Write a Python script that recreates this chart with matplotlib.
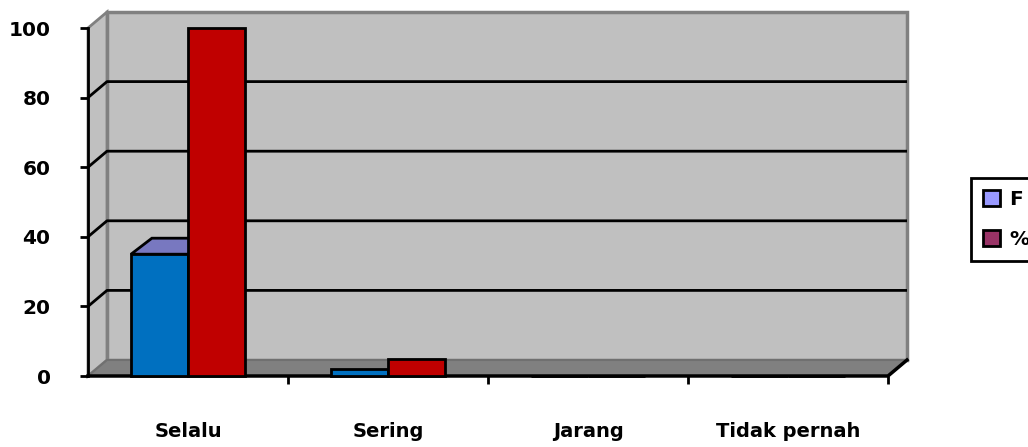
import matplotlib
matplotlib.use('Agg')
import matplotlib.pyplot as plt
from matplotlib.patches import Polygon, Rectangle, Patch

categories = ['Selalu', 'Sering', 'Jarang', 'Tidak pernah']
f_vals = [35, 2, 0, 0]
pct_vals = [100, 5, 0, 0]
series_names = ['F', '%']
y_ticks = [0, 20, 40, 60, 80, 100]

plt.rcParams['font.family'] = ['DejaVu Sans']
plt.rcParams['font.weight'] = 'bold'

W, H = 1028, 447
fig = plt.figure(figsize=(W / 100, H / 100), dpi=100)
# front plane of the 3d box: x 88..888 px, y 28..376 px from top
ax = fig.add_axes([88 / W, (H - 376) / H, 800 / W, 348 / H])
ax.set_xlim(-0.5, 3.5)
ax.set_ylim(0, 100)
ax.set_facecolor('none')

# depth offset of the back wall, in data units (19 px right, 16 px up)
DX = 19 / 200
DY = 16 / 3.48
x0, x1 = -0.5, 3.5

wall = Rectangle((x0 + DX, DY), x1 - x0, 100, facecolor='#C0C0C0',
                 edgecolor='#808080', lw=2.5, zorder=0.5, clip_on=False)
ax.add_patch(wall)
side = Polygon([(x0, 0), (x0, 100), (x0 + DX, 100 + DY), (x0 + DX, DY)],
               closed=True, facecolor='#C0C0C0', edgecolor='#808080', lw=2,
               zorder=0.6, clip_on=False)
ax.add_patch(side)
floor = Polygon([(x0, 0), (x1, 0), (x1 + DX, DY), (x0 + DX, DY)], closed=True,
                facecolor='#808080', edgecolor='#707070', lw=1.5, zorder=0.7,
                clip_on=False)
ax.add_patch(floor)

for v in y_ticks[1:-1]:
    ax.plot([x0, x0 + DX, x1 + DX], [v, v + DY, v + DY], color='black', lw=2,
            zorder=1, clip_on=False, solid_capstyle='butt')

# floor front and right edges
ax.plot([x0, x1, x1 + DX], [0, 0, DY], color='black', lw=2.5, zorder=1.2,
        clip_on=False)

w = 0.285
xs = list(range(len(categories)))
ax.bar([x - w / 2 for x in xs], f_vals, width=w, color='#0070C0',
       edgecolor='black', lw=2, zorder=3, clip_on=False)
ax.bar([x + w / 2 for x in xs], pct_vals, width=w, color='#C00000',
       edgecolor='black', lw=2, zorder=4, clip_on=False)

# top face of the taller F bars
for x, v in zip(xs, f_vals):
    if v > 10:
        l, r = x - w, x
        top = Polygon([(l, v), (r, v), (r + DX * 1.1, v + DY), (l + DX * 1.1, v + DY)],
                      closed=True, facecolor='#7878C0', edgecolor='black', lw=2,
                      zorder=2.5, clip_on=False)
        ax.add_patch(top)

for s in ['top', 'right', 'bottom']:
    ax.spines[s].set_visible(False)
ax.spines['left'].set_linewidth(2)
ax.spines['left'].set_zorder(1.5)

ax.set_yticks(y_ticks)
ax.tick_params(axis='y', length=6, width=2, pad=21, labelsize=14.5)
ax.set_xticks(xs)
ax.set_xticklabels(categories)
ax.set_xticks([x + 0.5 for x in xs], minor=True)
ax.tick_params(axis='x', which='major', length=0, pad=33, labelsize=14)
ax.tick_params(axis='x', which='minor', length=6, width=2, direction='out')
for t in ax.get_xticklabels() + ax.get_yticklabels():
    t.set_fontweight('bold')

handles = [Patch(facecolor='#9999FF', edgecolor='black', lw=2),
           Patch(facecolor='#993366', edgecolor='black', lw=2)]
leg = fig.legend(handles, series_names, loc='upper left',
                 bbox_to_anchor=(971 / W, 1 - 178 / H), borderaxespad=0,
                 fancybox=False, framealpha=1, edgecolor='black',
                 prop={'weight': 'bold', 'size': 14.5}, handlelength=0.85,
                 handleheight=0.85, handletextpad=0.45, labelspacing=1.05,
                 borderpad=0.6)
leg.get_frame().set_linewidth(2)

fig.savefig('out.png', dpi=100)
